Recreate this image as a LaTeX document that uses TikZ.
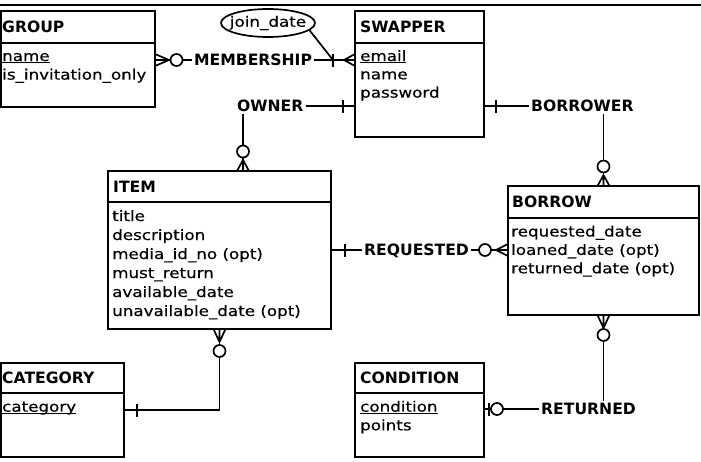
\documentclass[tikz,border=0pt]{standalone}
\usepackage{fontspec}
\setmainfont{DejaVu Sans}
\newfontfamily\attrfamily[FakeStretch=1.17,FakeBold=0.4]{DejaVu Sans}
\usetikzlibrary{shapes.geometric,calc}
\newcommand\attrfont{\attrfamily\fontsize{14.3}{18.6}\selectfont}
\newcommand\hdrfont{\bfseries\fontsize{15.6}{18.7}\selectfont}
\newcommand\keyul[1]{\setbox0\hbox{#1}\rlap{\rule[-2.3pt]{\wd0}{1.3pt}}\box0}
\begin{document}
\begin{tikzpicture}[x=1pt,y=-1pt,
  ent/.style={draw, line width=2pt, inner sep=0pt, outer sep=0pt, anchor=north west},
  divl/.style={line width=2pt},
  conn/.style={line width=1.7pt},
  hdr/.style={font=\hdrfont, anchor=base west, inner sep=0pt},
  attr/.style={font=\attrfont, anchor=base west, inner sep=0pt},
  lbl/.style={font=\hdrfont, inner sep=2pt, anchor=base west, text height=11.4pt, text depth=0pt},
  pics/crow/.style={code={\draw[conn] (#1,0) -- (0,-6) (#1,0) -- (0,0) (#1,0) -- (0,6);}},
  pics/bar/.style={code={\draw[conn] (#1,-6.5) -- (#1,6.5);}},
  pics/ring/.style={code={\draw[conn, fill=white] (#1,0) circle[radius=6];}},
]
\useasboundingbox (0,0) rectangle (701,461);
\draw[line width=2pt] (0,5) -- (701,5);

% entities
\node[ent, minimum width=154, minimum height=96] (group) at (1,11) {};
\node[ent, minimum width=129, minimum height=126] (swapper) at (355,11) {};
\node[ent, minimum width=223, minimum height=158] (item) at (108,171) {};
\node[ent, minimum width=191, minimum height=129] (borrow) at (508,186) {};
\node[ent, minimum width=123, minimum height=94] (category) at (1,363) {};
\node[ent, minimum width=129, minimum height=94] (condition) at (355,363) {};

\draw[divl] ([yshift=-32pt]group.north west) -- ([yshift=-32pt]group.north east);
\draw[divl] ([yshift=-32pt]swapper.north west) -- ([yshift=-32pt]swapper.north east);
\draw[divl] ([yshift=-31pt]item.north west) -- ([yshift=-31pt]item.north east);
\draw[divl] ([yshift=-32pt]borrow.north west) -- ([yshift=-32pt]borrow.north east);
\draw[divl] ([yshift=-30pt]category.north west) -- ([yshift=-30pt]category.north east);
\draw[divl] ([yshift=-30pt]condition.north west) -- ([yshift=-30pt]condition.north east);

\node[hdr] (group-h) at (2,32) {GROUP};
\node[hdr] (swapper-h) at (360,32) {SWAPPER};
\node[hdr] (item-h) at (113,192) {ITEM};
\node[hdr] (borrow-h) at (512,207.5) {BORROW};
\node[hdr] (category-h) at (2,383) {CATEGORY};
\node[hdr] (condition-h) at (360,383) {CONDITION};

\foreach \t [count=\i] in {\keyul{name}, is\_invitation\_only}
  \node[attr] (group-a\i) at (2,{61+(\i-1)*18.6}) {\t};
\foreach \t [count=\i] in {\keyul{email}, name, password}
  \node[attr] (swapper-a\i) at (360,{61+(\i-1)*18.3}) {\t};
\foreach \t [count=\i] in {title, description, media\_id\_no (opt), must\_return, available\_date, unavailable\_date (opt)}
  \node[attr] (item-a\i) at (112,{221+(\i-1)*19}) {\t};
\foreach \t [count=\i] in {requested\_date, loaned\_date (opt), returned\_date (opt)}
  \node[attr] (borrow-a\i) at (511,{236.5+(\i-1)*18.4}) {\t};
\node[attr] (category-a1) at (2,411.7) {\keyul{category}};
\foreach \t [count=\i] in {\keyul{condition}, points}
  \node[attr] (condition-a\i) at (360,{411.7+(\i-1)*18.6}) {\t};

% relationship labels
\node[lbl] (memb) at (192,65.7) {MEMBERSHIP};
\node[lbl] (owner) at (235,111.7) {OWNER};
\node[lbl] (borrower) at (529,111.7) {BORROWER};
\node[lbl] (req) at (362,255.7) {REQUESTED};
\node[lbl] (ret) at (539,414.7) {RETURNED};

% attribute ellipse
\node[draw, ellipse, line width=1.7pt, minimum width=94pt, minimum height=28pt, inner sep=0pt, font=\attrfont] (jd) at (268,23) {\makebox[0pt]{join\_date}};
\coordinate (mj) at ($(swapper.west |- memb)+(-22,0)$);

% MEMBERSHIP
\draw[conn] (group.east |- memb) -- (memb.west);
\draw[conn] (memb.east) -- (swapper.west |- memb);
\draw[conn] (jd.350) -- (mj);
\pic at (group.east |- memb) {crow=14};
\pic at (group.east |- memb) {ring=21.5};
\pic[rotate=180] at (swapper.west |- memb) {crow=11};
\pic[rotate=180] at (swapper.west |- memb) {bar=22};

% OWNER
\coordinate (ownx) at ($(owner.west)+(8,0)$);
\draw[conn] (owner.east) -- (swapper.west |- owner);
\pic[rotate=180] at (swapper.west |- owner) {bar=12};
\draw[conn] (owner.south -| ownx) -- (item.north -| ownx);
\pic[rotate=90] at (item.north -| ownx) {crow=11};
\pic[rotate=90] at (item.north -| ownx) {ring=19.5};

% BORROWER
\draw[conn] (swapper.east |- borrower) -- (borrower.west);
\pic at (swapper.east |- borrower) {bar=12};
\draw[conn] (borrower.south -| borrow.north) -- (borrow.north);
\pic[rotate=90] at (borrow.north) {crow=11};
\pic[rotate=90] at (borrow.north) {ring=19.5};

% REQUESTED
\draw[conn] (item.east |- req) -- (req.west);
\pic at (item.east |- req) {bar=14};
\draw[conn] (req.east) -- (borrow.west |- req);
\pic[rotate=180] at (borrow.west |- req) {crow=12};
\pic[rotate=180] at (borrow.west |- req) {ring=23};

% CATEGORY - ITEM
\draw[conn] ([yshift=-47pt]category.north east) -| (item.south);
\pic at ([yshift=-47pt]category.north east) {bar=13};
\pic[rotate=-90] at (item.south) {crow=13};
\pic[rotate=-90] at (item.south) {ring=22};

% RETURNED
\draw[conn] (condition.east |- ret) -- (ret.west);
\pic at (condition.east |- ret) {bar=5};
\pic at (condition.east |- ret) {ring=13};
\draw[conn] (ret.north -| borrow.south) -- (borrow.south);
\pic[rotate=-90] at (borrow.south) {crow=13};
\pic[rotate=-90] at (borrow.south) {ring=20};
\end{tikzpicture}
\end{document}
